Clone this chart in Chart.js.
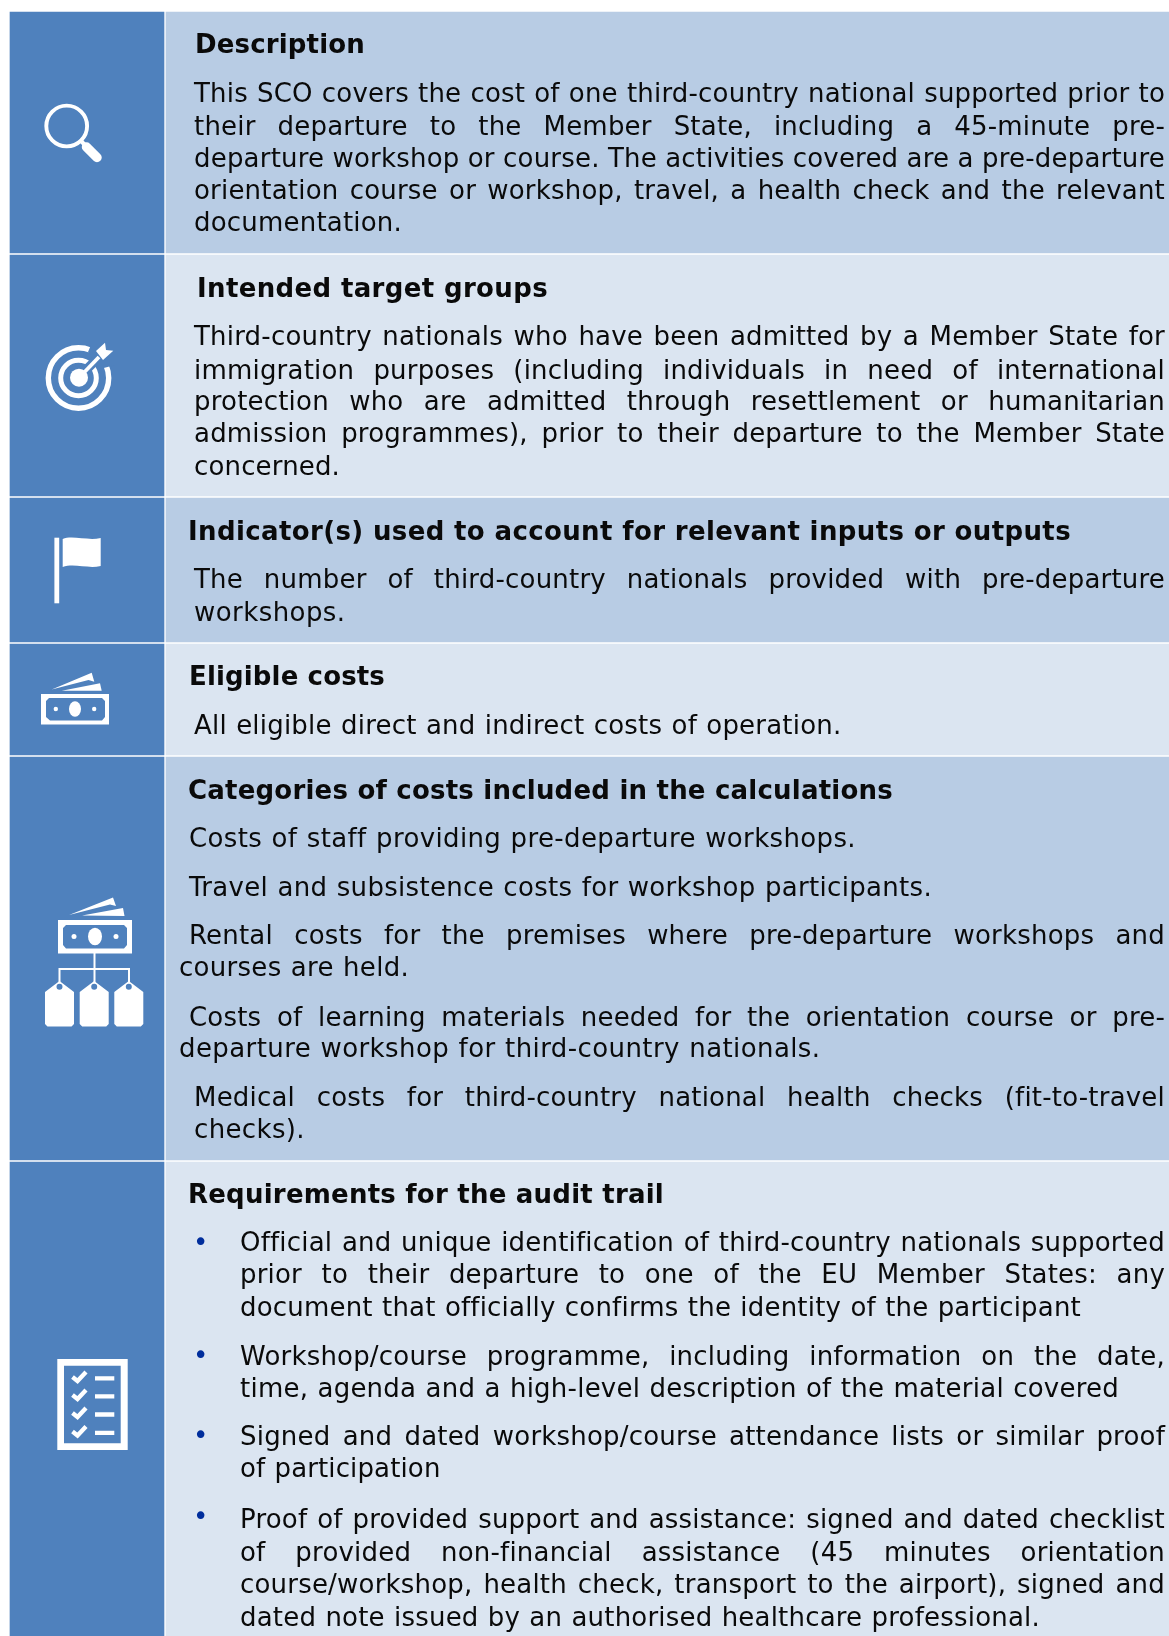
<!DOCTYPE html>
<html>
<head>
<meta charset="utf-8">
<script src="https://cdn.jsdelivr.net/npm/chart.js@4.4.0/dist/chart.umd.min.js"></script>
<style>
  html, body { margin: 0; padding: 0; background: #fff; }
  #page { position: relative; width: 1169px; height: 1636px; overflow: hidden; font-family: "DejaVu Sans", sans-serif; color: #0a0a0a; }
  #bands, #icons, #text { position: absolute; left: 0; top: 0; }
  .ln { position: absolute; white-space: nowrap; font-size: 26px; line-height: 32px; height: 32px; letter-spacing: .2px; word-spacing: .8px; }
  .ln.h { font-weight: bold; word-spacing: 0; }
  .ln.b { color: #002d9c; }
</style>
</head>
<body>
<div id="page">
  <canvas id="bands" width="1169" height="1636"></canvas>
  <svg id="icons" width="1169" height="1636" fill="#fff" stroke="none">
    <!-- magnifier -->
    <circle cx="66.7" cy="126" r="20.4" fill="none" stroke="#fff" stroke-width="3.9"/>
    <path d="M81 141 L86 146" stroke="#fff" stroke-width="4"/>
    <path d="M86.5 147 L97 157.5" stroke="#fff" stroke-width="9.5" stroke-linecap="round"/>
    <!-- target -->
    <g fill="none" stroke="#fff">
      <circle cx="78.5" cy="378" r="30.2" stroke-width="5.4"/>
      <circle cx="78.5" cy="378" r="17.8" stroke-width="5"/>
    </g>
    <circle cx="79" cy="377.7" r="9"/>
    <path d="M87 369 L104 352" stroke="#4f81bd" stroke-width="9.5"/>
    <path d="M91 345 L115 345 L115 365 L100 369 L88 352 Z" fill="#4f81bd"/>
    <path d="M79 377.7 L99 357" stroke="#fff" stroke-width="3.8"/>
    <path d="M96 351 L105 342.7 L106 350 L113.3 350.7 L103 360 Z"/>
    <!-- flag -->
    <rect x="54.4" y="537.7" width="4.8" height="65.6"/>
    <path d="M62.7 539 C72 535 88 541 100.7 538 L100.7 566 C88 569 74 563 62.7 567 Z"/>
    <!-- money -->
    <path fill-rule="evenodd" d="M41 694 H109 V724.5 H41 Z M49 698 L46 701 V717 L50 720.5 H102 L105 717 V701 L102 698 Z"/>
    <ellipse cx="75" cy="709" rx="6" ry="7.7"/>
    <circle cx="55.8" cy="709" r="2.2"/>
    <circle cx="94.2" cy="709" r="2.2"/>
    <path d="M51.7 689.5 L91.7 672.7 L94.3 681.7 L88.5 680 Z"/>
    <path d="M61.7 690.7 L100 683.3 L101.7 690.7 Z"/>
    <!-- money and tags -->
    <path fill-rule="evenodd" d="M58 920 H132 V953.5 H58 Z M66 925 L63 928 V945 L66 948.5 H124 L127 945 V928 L124 925 Z"/>
    <ellipse cx="95" cy="936.5" rx="7" ry="8.7"/>
    <circle cx="74" cy="936.5" r="2.5"/>
    <circle cx="116" cy="936.5" r="2.5"/>
    <path d="M69 915 L113 897.5 L116 906 L110 904.5 Z"/>
    <path d="M82 915.5 L123 908 L124.5 916 Z"/>
    <path d="M94.5 953 V983 M59.5 983 V969 H129 V983" fill="none" stroke="#fff" stroke-width="2"/>
    <path id="tag" fill-rule="evenodd" d="M59.5 981 L74 992 V1024 L71.5 1026.5 H47.5 L45 1024 V992 Z M59.5 983.7 A3 3 0 1 0 59.5 989.7 A3 3 0 1 0 59.5 983.7 Z"/>
    <use href="#tag" x="34.7"/>
    <use href="#tag" x="69.3"/>
    <!-- checklist -->
    <path fill-rule="evenodd" d="M57.3 1359 H127.7 V1450 H57.3 Z M64 1365.7 V1443.3 H120.7 V1365.7 Z"/>
    <g fill="none" stroke="#fff" stroke-width="4.3">
      <path d="M72.5 1377 L77.5 1381 L86 1372 M95 1378.3 H114.3"/>
      <path d="M72.5 1395 L77.5 1399 L86 1390 M95 1396.3 H114.3"/>
      <path d="M72.5 1413 L77.5 1417 L86 1408 M95 1414.5 H114.3"/>
      <path d="M72.5 1431.5 L77.5 1435.5 L86 1426.5 M95 1432.8 H114.3"/>
    </g>
  </svg>
  <div id="text"></div>
</div>
<script>
/* === SCO FICHE — rows drawn as floating bars, text on top === */
var rowNames = ['Description', 'Intended target groups', 'Indicator(s)', 'Eligible costs', 'Categories of costs', 'Audit trail'];
var rowTops = [12, 255, 498, 644, 757, 1162];
var rowBottoms = [253, 496, 642, 755, 1160, 1636];
var columnCentres = [87, 667.5];

// [left, right end, centre y, text]
var headings = [
  [195, 365, 45, 'Description'],
  [197, 548, 289, 'Intended target groups'],
  [188, 1071, 532, 'Indicator(s) used to account for relevant inputs or outputs'],
  [189, 385, 677, 'Eligible costs'],
  [188, 893, 791, 'Categories of costs included in the calculations'],
  [188, 664, 1195, 'Requirements for the audit trail']
];
var justified = [
  [194, 1165, 94, 'This SCO covers the cost of one third-country national supported prior to'],
  [194, 1165, 127, 'their departure to the Member State, including a 45-minute pre-'],
  [194, 1165, 159, 'departure workshop or course. The activities covered are a pre-departure'],
  [194, 1165, 191, 'orientation course or workshop, travel, a health check and the relevant'],
  [194, 1165, 337, 'Third-country nationals who have been admitted by a Member State for'],
  [194, 1165, 371, 'immigration purposes (including individuals in need of international'],
  [194, 1165, 402, 'protection who are admitted through resettlement or humanitarian'],
  [194, 1165, 434, 'admission programmes), prior to their departure to the Member State'],
  [194, 1165, 580, 'The number of third-country nationals provided with pre-departure'],
  [189, 1165, 936, 'Rental costs for the premises where pre-departure workshops and'],
  [189, 1165, 1018, 'Costs of learning materials needed for the orientation course or pre-'],
  [194, 1165, 1098, 'Medical costs for third-country national health checks (fit-to-travel'],
  [240, 1165, 1243, 'Official and unique identification of third-country nationals supported'],
  [240, 1165, 1275, 'prior to their departure to one of the EU Member States: any'],
  [240, 1165, 1357, 'Workshop/course programme, including information on the date,'],
  [240, 1165, 1437, 'Signed and dated workshop/course attendance lists or similar proof'],
  [240, 1165, 1520, 'Proof of provided support and assistance: signed and dated checklist'],
  [240, 1165, 1553, 'of provided non-financial assistance (45 minutes orientation'],
  [240, 1165, 1585, 'course/workshop, health check, transport to the airport), signed and']
];
var plainLines = [
  [194, 402, 223, 'documentation.'],
  [194, 340, 467, 'concerned.'],
  [194, 345.5, 613, 'workshops.'],
  [194, 841.5, 726, 'All eligible direct and indirect costs of operation.'],
  [189, 856, 839, 'Costs of staff providing pre-departure workshops.'],
  [189, 932, 888, 'Travel and subsistence costs for workshop participants.'],
  [179, 409, 968, 'courses are held.'],
  [179, 820.5, 1049, 'departure workshop for third-country nationals.'],
  [194, 305, 1130, 'checks).'],
  [240, 1081, 1308, 'document that officially confirms the identity of the participant'],
  [240, 1119, 1389, 'time, agenda and a high-level description of the material covered'],
  [240, 440.5, 1469, 'of participation'],
  [240, 1040, 1618, 'dated note issued by an authorised healthcare professional.']
];
var bulletYs = [1243, 1356, 1436, 1517];

var lightRow = '#dbe5f1', darkRow = '#b8cce4', iconBlue = '#4f81bd';

// ==== BANDS ====
function rowBars(x) {
  return rowNames.map(function (n, i) { return { x: x, y: [rowTops[i], rowBottoms[i]] }; });
}

new Chart(document.getElementById('bands').getContext('2d'), {
  type: 'bar',
  data: {
    labels: rowNames,
    datasets: [
      { label: 'Icons', data: rowBars(columnCentres[0]), backgroundColor: iconBlue, barThickness: 154, grouped: false },
      { label: 'Text', data: rowBars(columnCentres[1]), backgroundColor: rowNames.map(function (n, i) { return i % 2 ? lightRow : darkRow; }), barThickness: 1003, grouped: false }
    ]
  },
  options: {
    responsive: false, animation: false,
    plugins: { legend: { display: false }, tooltip: { enabled: false } },
    layout: { padding: 0 },
    scales: {
      x: { type: 'linear', min: 0, max: 1169, offset: false, display: false },
      y: { type: 'linear', min: 0, max: 1636, reverse: true, display: false }
    }
  }
});

// ==== TEXT ====
function addLine(cls, left, y, str) {
  var d = document.createElement('div');
  d.className = 'ln ' + cls;
  d.style.left = left + 'px';
  d.style.top = (y - 17) + 'px';
  d.textContent = str;
  document.getElementById('text').appendChild(d);
  return d;
}
function spare(d, l) { return (l[1] - l[0]) - d.getBoundingClientRect().width; }

// stretch the spaces only, like the justified text in the source
justified.forEach(function (l) {
  var d = addLine('', l[0], l[2], l[3]);
  var base = parseFloat(getComputedStyle(d).wordSpacing) || 0;
  d.style.wordSpacing = (base + spare(d, l) / (l[3].split(' ').length - 1)) + 'px';
});
// small tracking tweak so the line ends land where they do in the source
headings.concat(plainLines).forEach(function (l, i) {
  var d = addLine(i < headings.length ? 'h' : '', l[0], l[2], l[3]);
  d.style.letterSpacing = (0.2 + spare(d, l) / l[3].length) + 'px';
});
bulletYs.forEach(function (y) { addLine('b', 193, y, '•'); });
</script>
</body>
</html>
